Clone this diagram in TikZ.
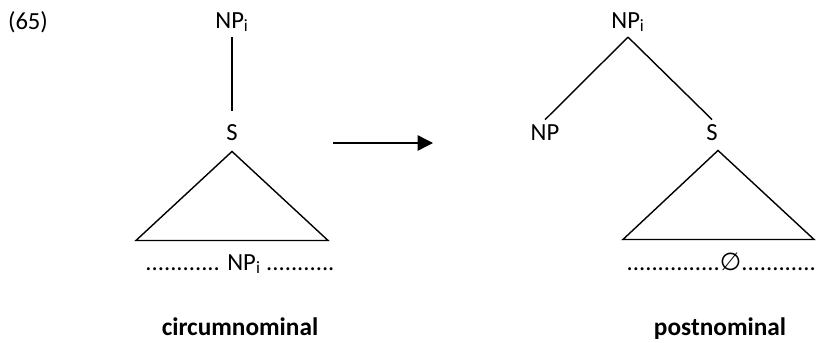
\documentclass[tikz,border=0pt]{standalone}
\usepackage{fontspec}
\setmainfont{Carlito}
\newfontfamily\symfont{DejaVu Sans}
\usetikzlibrary{arrows.meta}
\newcommand{\NPi}{NP\textsubscript{i}}
\newcommand{\Zero}{{\symfont\char"2205}}

\begin{document}
\begin{tikzpicture}[x=0.025cm, y=-0.025cm, line width=1pt,
    font=\fontsize{17.5}{21}\selectfont,
    gapline/.style={inner sep=0pt},
    label/.style={font=\fontsize{18}{22}\selectfont\bfseries, anchor=base}]
    \useasboundingbox (0,0) rectangle (819,342);
    \node(num) at (28,22) {(65)};
    \begin{scope}
      % Circumnominal: NP_i above S, its gap inside
      \node(npi)  at (232,22)  {\NPi};
      \node(s)    at (232,133) {S};
      \node(gap)[gapline, anchor=base] at (240,270) {............ \NPi\ ...........};
      \node(circ)[label] at (240,335) {circumnominal};
      \draw (s.south) ++(0,5) -- ++(-96,89) -- ++(192,0) -- cycle;
    \end{scope}
    \begin{scope}
      % Postnominal: NP_i over NP and S, gap left empty
      \node(npj)  at (628,22)  {\NPi};
      \node(np)   at (545,133) {NP};
      \node(s2)   at (712,133) {S};
      \node(gap2)[gapline, anchor=base west] at (626,270) {...............\Zero............};
      \node(post)[label] at (720,335) {postnominal};
      \draw (s2.south) ++(6,4) -- ++(-95,89) -- ++(191,0) -- cycle;
    \end{scope}
    \coordinate(from) at (333,143);
    \coordinate(to)   at (433,143);
    \path (npi.south) edge[shorten >=6pt] (s.north);
    \path (npj.south) edge (np.north);
    \path (npj.south) edge (s2.north);
    \draw[-{Triangle[length=11pt,width=11pt]}] (from) -- (to);
  \end{tikzpicture}
\end{document}
